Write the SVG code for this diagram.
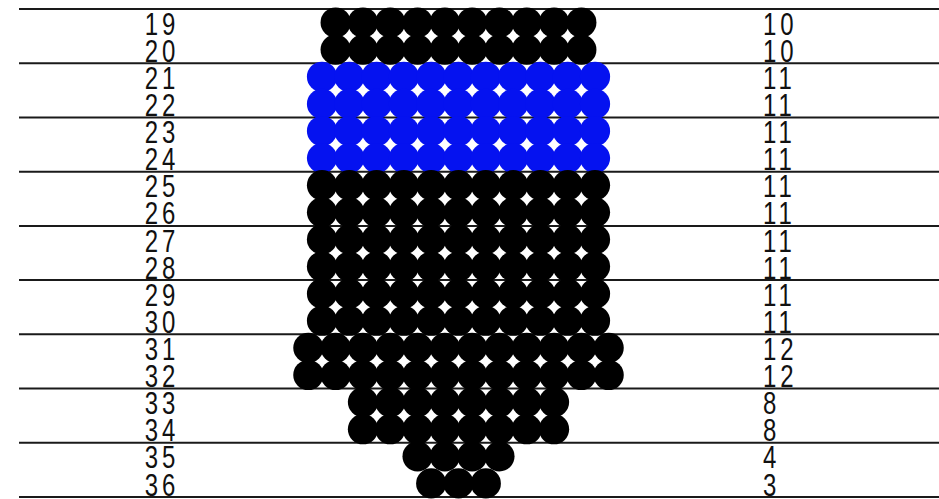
<svg xmlns="http://www.w3.org/2000/svg" xmlns:xlink="http://www.w3.org/1999/xlink" width="939" height="499" viewBox="0 0 939 499">
<style>
.ln{stroke:#1a1a1a;stroke-width:2;fill:none}
.k{fill:#000}
.u{fill:#0512f0}
.t{font-family:"Liberation Sans",Arial,sans-serif;font-size:24px;letter-spacing:4px;fill:#111}
.l{text-anchor:middle}
.r{text-anchor:start}
</style>
<defs>
<g id="r10"><circle cx="335.65" r="15.1"/><circle cx="362.95" r="15.1"/><circle cx="390.25" r="15.1"/><circle cx="417.55" r="15.1"/><circle cx="444.85" r="15.1"/><circle cx="472.15" r="15.1"/><circle cx="499.45" r="15.1"/><circle cx="526.75" r="15.1"/><circle cx="554.05" r="15.1"/><circle cx="581.35" r="15.1"/></g>
<g id="r11"><circle cx="322" r="15.1"/><circle cx="349.3" r="15.1"/><circle cx="376.6" r="15.1"/><circle cx="403.9" r="15.1"/><circle cx="431.2" r="15.1"/><circle cx="458.5" r="15.1"/><circle cx="485.8" r="15.1"/><circle cx="513.1" r="15.1"/><circle cx="540.4" r="15.1"/><circle cx="567.7" r="15.1"/><circle cx="595" r="15.1"/></g>
<g id="r12"><circle cx="308.35" r="15.1"/><circle cx="335.65" r="15.1"/><circle cx="362.95" r="15.1"/><circle cx="390.25" r="15.1"/><circle cx="417.55" r="15.1"/><circle cx="444.85" r="15.1"/><circle cx="472.15" r="15.1"/><circle cx="499.45" r="15.1"/><circle cx="526.75" r="15.1"/><circle cx="554.05" r="15.1"/><circle cx="581.35" r="15.1"/><circle cx="608.65" r="15.1"/></g>
<g id="r8"><circle cx="362.95" r="15.1"/><circle cx="390.25" r="15.1"/><circle cx="417.55" r="15.1"/><circle cx="444.85" r="15.1"/><circle cx="472.15" r="15.1"/><circle cx="499.45" r="15.1"/><circle cx="526.75" r="15.1"/><circle cx="554.05" r="15.1"/></g>
<g id="r4"><circle cx="417.55" r="15.1"/><circle cx="444.85" r="15.1"/><circle cx="472.15" r="15.1"/><circle cx="499.45" r="15.1"/></g>
<g id="r3"><circle cx="431.2" r="15.1"/><circle cx="458.5" r="15.1"/><circle cx="485.8" r="15.1"/></g>
</defs>
<rect width="939" height="499" fill="#fff"/>
<g id="gridlines">
<line class="ln" x1="19" y1="9" x2="939" y2="9"/>
<line class="ln" x1="19" y1="63.2" x2="939" y2="63.2"/>
<line class="ln" x1="19" y1="117.4" x2="939" y2="117.4"/>
<line class="ln" x1="19" y1="171.7" x2="939" y2="171.7"/>
<line class="ln" x1="19" y1="225.9" x2="939" y2="225.9"/>
<line class="ln" x1="19" y1="280.1" x2="939" y2="280.1"/>
<line class="ln" x1="19" y1="334.3" x2="939" y2="334.3"/>
<line class="ln" x1="19" y1="388.5" x2="939" y2="388.5"/>
<line class="ln" x1="19" y1="442.8" x2="939" y2="442.8"/>
<line class="ln" x1="19" y1="497" x2="939" y2="497"/>
</g>
<g id="beads">
<use xlink:href="#r10" href="#r10" y="22.55" class="k"/>
<use xlink:href="#r10" href="#r10" y="49.66" class="k"/>
<use xlink:href="#r11" href="#r11" y="76.77" class="u"/>
<use xlink:href="#r11" href="#r11" y="103.88" class="u"/>
<use xlink:href="#r11" href="#r11" y="130.99" class="u"/>
<use xlink:href="#r11" href="#r11" y="158.1" class="u"/>
<use xlink:href="#r11" href="#r11" y="185.21" class="k"/>
<use xlink:href="#r11" href="#r11" y="212.32" class="k"/>
<use xlink:href="#r11" href="#r11" y="239.43" class="k"/>
<use xlink:href="#r11" href="#r11" y="266.54" class="k"/>
<use xlink:href="#r11" href="#r11" y="293.65" class="k"/>
<use xlink:href="#r11" href="#r11" y="320.76" class="k"/>
<use xlink:href="#r12" href="#r12" y="347.87" class="k"/>
<use xlink:href="#r12" href="#r12" y="374.98" class="k"/>
<use xlink:href="#r8" href="#r8" y="402.09" class="k"/>
<use xlink:href="#r8" href="#r8" y="429.2" class="k"/>
<use xlink:href="#r4" href="#r4" y="456.31" class="k"/>
<use xlink:href="#r3" href="#r3" y="483.42" class="k"/>
</g>
<g id="rownumbers" class="t l">
<text transform="translate(162,34.6) scale(1,1.32)">19</text>
<text transform="translate(162,61.7) scale(1,1.32)">20</text>
<text transform="translate(162,88.8) scale(1,1.32)">21</text>
<text transform="translate(162,115.9) scale(1,1.32)">22</text>
<text transform="translate(162,143.1) scale(1,1.32)">23</text>
<text transform="translate(162,170.2) scale(1,1.32)">24</text>
<text transform="translate(162,197.3) scale(1,1.32)">25</text>
<text transform="translate(162,224.4) scale(1,1.32)">26</text>
<text transform="translate(162,251.5) scale(1,1.32)">27</text>
<text transform="translate(162,278.6) scale(1,1.32)">28</text>
<text transform="translate(162,305.7) scale(1,1.32)">29</text>
<text transform="translate(162,332.8) scale(1,1.32)">30</text>
<text transform="translate(162,359.9) scale(1,1.32)">31</text>
<text transform="translate(162,387.1) scale(1,1.32)">32</text>
<text transform="translate(162,414.2) scale(1,1.32)">33</text>
<text transform="translate(162,441.3) scale(1,1.32)">34</text>
<text transform="translate(162,468.4) scale(1,1.32)">35</text>
<text transform="translate(162,495.5) scale(1,1.32)">36</text>
</g>
<g id="counts" class="t r">
<text transform="translate(763,34.6) scale(1,1.32)">10</text>
<text transform="translate(763,61.7) scale(1,1.32)">10</text>
<text transform="translate(763,88.8) scale(1,1.32)">11</text>
<text transform="translate(763,115.9) scale(1,1.32)">11</text>
<text transform="translate(763,143.1) scale(1,1.32)">11</text>
<text transform="translate(763,170.2) scale(1,1.32)">11</text>
<text transform="translate(763,197.3) scale(1,1.32)">11</text>
<text transform="translate(763,224.4) scale(1,1.32)">11</text>
<text transform="translate(763,251.5) scale(1,1.32)">11</text>
<text transform="translate(763,278.6) scale(1,1.32)">11</text>
<text transform="translate(763,305.7) scale(1,1.32)">11</text>
<text transform="translate(763,332.8) scale(1,1.32)">11</text>
<text transform="translate(763,359.9) scale(1,1.32)">12</text>
<text transform="translate(763,387.1) scale(1,1.32)">12</text>
<text transform="translate(763,414.2) scale(1,1.32)">8</text>
<text transform="translate(763,441.3) scale(1,1.32)">8</text>
<text transform="translate(763,468.4) scale(1,1.32)">4</text>
<text transform="translate(763,495.5) scale(1,1.32)">3</text>
</g>
</svg>
